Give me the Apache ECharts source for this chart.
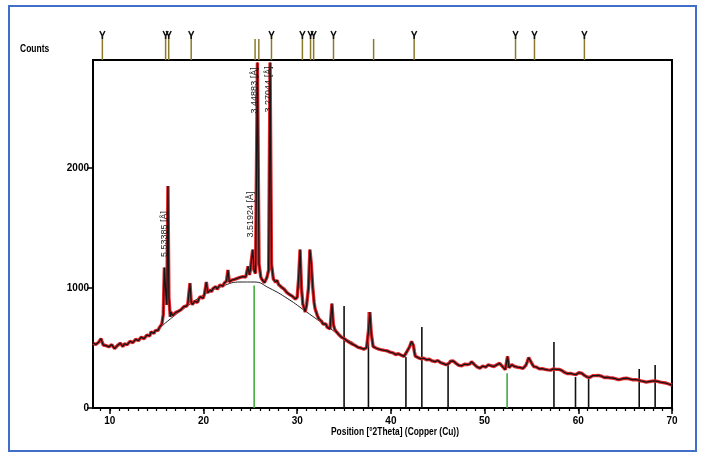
<!DOCTYPE html>
<html><head><meta charset="utf-8">
<script src="https://cdn.jsdelivr.net/npm/echarts@6/dist/echarts.min.js"></script>
<style>html,body{margin:0;padding:0;background:#fff}#c{width:702px;height:459px}</style>
</head><body><div id="c"></div>
<script>
// ---- data ----
const twoTheta = [
8.2,8.35,8.5,8.65,8.8,8.92,9.05,9.18,9.3,9.45,9.6,9.75,9.9,10.05,
10.2,10.35,10.5,10.65,10.8,10.95,11.1,11.25,11.4,11.55,11.7,11.85,12.0,
12.15,12.3,12.45,12.6,12.75,12.9,13.05,13.2,13.35,13.5,13.65,13.8,13.95,14.1,
14.25,14.4,14.55,14.7,14.85,15.0,15.15,15.3,15.55,15.7,15.82,15.95,16.08,16.2,16.3,16.45,
16.52,16.6,16.7,16.8,16.9,17.0,17.15,17.3,17.45,17.6,17.75,17.9,18.05,18.2,18.32,18.45,
18.55,18.68,18.8,18.9,19.05,19.2,19.35,19.5,19.65,19.8,19.95,20.1,20.2,20.3,20.45,
20.58,20.7,20.85,21.0,21.15,21.3,21.45,21.6,21.75,21.9,22.05,22.2,22.32,22.45,22.6,22.75,
22.88,23.0,23.15,23.3,23.45,23.6,23.75,23.9,24.05,24.2,24.35,24.5,24.62,24.75,24.9,25.0,
25.1,25.25,25.38,25.55,25.75,25.92,26.1,26.2,26.3,26.4,26.5,26.62,26.75,26.95,
27.1,27.25,27.45,27.58,27.7,27.85,28.0,28.15,28.3,28.45,28.6,28.75,28.9,29.05,
29.2,29.35,29.5,29.65,29.8,30.0,30.15,30.3,30.45,30.6,30.75,30.85,31.0,
31.2,31.35,31.5,31.65,31.8,31.9,32.0,32.15,32.3,32.45,32.6,32.75,32.9,33.05,33.2,
33.35,33.5,33.7,33.85,33.98,34.1,34.25,34.4,34.55,34.7,34.85,35.0,35.15,
35.3,35.45,35.6,35.75,35.9,36.05,36.2,36.35,36.5,36.65,36.8,36.95,37.1,37.25,
37.4,37.6,37.75,37.9,38.1,38.25,38.4,38.55,38.7,38.85,39.0,39.15,
39.3,39.45,39.6,39.75,39.9,40.05,40.2,40.35,40.5,40.65,40.8,40.95,41.1,
41.25,41.4,41.55,41.7,41.85,42.0,42.2,42.4,42.5,42.6,42.75,42.9,43.05,
43.2,43.35,43.5,43.65,43.8,43.95,44.1,44.25,44.4,44.55,44.7,44.85,45.0,
45.15,45.3,45.45,45.6,45.75,45.9,46.05,46.2,46.35,46.5,46.65,46.8,46.95,
47.1,47.25,47.4,47.55,47.7,47.85,48.0,48.15,48.3,48.45,48.6,48.75,48.9,
49.05,49.2,49.35,49.5,49.65,49.8,49.95,50.1,50.25,50.4,50.55,50.7,50.85,
51.0,51.15,51.3,51.45,51.6,51.75,51.9,52.05,52.2,52.45,52.6,52.75,
52.9,53.05,53.2,53.35,53.5,53.65,53.8,53.95,54.1,54.25,54.4,54.55,
54.7,54.9,55.1,55.25,55.4,55.55,55.7,55.85,56.0,56.15,56.3,56.45,
56.6,56.75,56.9,57.05,57.2,57.35,57.5,57.65,57.8,57.95,58.1,58.25,58.4,
58.55,58.7,58.85,59.0,59.15,59.3,59.45,59.6,59.75,59.9,60.05,60.2,60.35,
60.5,60.65,60.8,60.95,61.1,61.25,61.4,61.55,61.7,61.85,62.0,62.15,62.3,
62.45,62.6,62.75,62.9,63.05,63.2,63.35,63.5,63.65,63.8,63.95,64.1,64.25,
64.4,64.55,64.7,64.85,65.0,65.15,65.3,65.45,65.6,65.75,65.9,66.05,66.2,
66.35,66.5,66.65,66.8,66.95,67.1,67.25,67.4,67.55,67.7,67.85,68.0,68.15,
68.3,68.45,68.6,68.75,68.9,69.05,69.2,69.35,69.5,69.65,69.8,70.0];
const counts = [
540,552,530,515,548,535,578,548,525,540,520,532,510,502,
528,512,495,505,520,505,540,528,512,535,545,528,538,
555,566,545,555,572,580,562,570,590,598,578,590,608,612,
600,634,640,622,645,655,648,672,700,780,1170,980,860,1850,920,760,
800,790,770,765,782,795,780,805,820,820,808,845,858,850,868,880,
1040,885,862,870,890,895,880,910,928,930,915,950,962,1050,960,
975,985,968,995,1010,1012,990,1000,1025,1030,1015,1040,1030,1058,1150,1050,
1040,1065,1080,1072,1060,1080,1095,1088,1075,1095,1105,1090,1100,1180,1110,1150,
1230,1320,1150,1120,2880,1200,1095,1075,1060,1080,1045,1060,1085,1150,
2880,1200,1075,1060,1048,1065,1030,1040,1008,1020,990,998,962,975,
945,955,930,915,908,925,1080,1320,1000,865,830,800,860,
1000,1320,1200,1010,880,830,805,770,745,758,722,700,690,700,672,
680,660,870,700,660,642,630,615,608,592,585,578,570,
560,555,545,540,532,525,520,512,505,515,500,495,490,498,
502,640,800,620,512,505,500,508,490,495,485,478,
480,488,476,470,466,472,460,450,446,458,452,445,440,
435,430,445,470,490,512,555,522,470,432,425,420,428,
410,418,415,405,402,410,406,398,392,398,386,390,396,
385,378,382,370,365,360,368,372,390,400,392,382,372,
366,355,346,352,360,365,372,362,356,368,386,375,362,
350,342,338,332,345,350,345,340,352,360,355,352,348,
346,354,360,366,372,360,346,335,320,430,336,350,
360,352,346,342,340,345,336,332,330,340,356,385,
420,410,362,345,330,340,336,326,320,328,330,322,
326,318,310,316,320,326,330,322,318,322,326,312,300,
296,290,286,280,288,292,282,270,278,286,294,300,290,
280,272,266,258,250,256,262,270,275,270,268,272,275,
266,258,254,250,256,260,252,245,250,252,244,238,236,
235,240,242,246,250,248,245,242,240,236,232,236,240,
234,228,226,225,222,220,216,215,220,226,224,222,225,
228,222,218,216,215,212,210,208,205,200,195,190];
const bgTheta  = [15.5,16.5,18,20,22,24,25.4,27,29,31,33,35,36];
const bgCounts = [680,745,835,940,1015,1050,1050,1000,910,800,690,585,545];
const stickTheta  = [25.4,35.0,37.6,41.6,43.3,46.1,52.4,57.4,59.7,61.1,66.5,68.2];
const stickCounts = [1020,850,800,425,675,360,290,550,258,258,325,358];
const stickGreen  = [1,0,0,0,0,0,1,0,0,0,0,0];
const markerTheta = [9.2,15.95,16.28,18.68,25.5,25.9,27.25,30.55,31.42,31.75,33.87,38.15,42.48,53.3,55.32,60.65];
const markerGlyph = [1,1,1,1,0,0,1,1,1,1,1,0,1,1,1,1];
const peakTheta  = [16.2,25.25,25.75,27.1];
const peakCounts = [1850,1320,2880,2880];
const peakLabels = ['5.53385 [Å]','3.51924 [Å]','3.44883 [Å]','3.27044 [Å]'];
const xTickLabels = [10,20,30,40,50,60,70];
const yTickLabels = [0,1000,2000];

// ---- presentation ----
const FONT = "'Liberation Sans',Arial,sans-serif";
const labelOffsets = [[-3,71],[-2,-12],[-2.5,51],[-2,50]];
const xMin = 8.2, xMax = 70;
const minorTicks = [];
for (let v = 9; v <= 70; v++) minorTicks.push(v);

const obs = twoTheta.map((t,i)=>[t,counts[i]]);
const bg = bgTheta.map((t,i)=>[t,bgCounts[i]]);
const sticks = stickTheta.map((t,i)=>[t,stickCounts[i],stickGreen[i]]);
const markers = markerTheta.map((t,i)=>[t,markerGlyph[i]]);
const peaks = peakTheta.map((t,i)=>[t,peakCounts[i],i]);

const gridBox = {left:93, right:30, top:60, bottom:51};
const chart = echarts.init(document.getElementById('c'), null, {renderer:'canvas'});
chart.setOption({
  animation:false,
  backgroundColor:'#fff',
  grid:[
    Object.assign({show:true, borderColor:'#000', borderWidth:2, backgroundColor:'transparent'}, gridBox),
    {left:93, right:30, top:28, height:32, show:false},
    Object.assign({show:false}, gridBox)
  ],
  xAxis:[
    {type:'value', gridIndex:0, min:xMin, max:xMax, position:'bottom',
     axisLine:{onZero:false, lineStyle:{color:'#000', width:2}},
     axisTick:{customValues:xTickLabels, length:6, lineStyle:{color:'#000', width:1.5}},
     axisLabel:{customValues:xTickLabels, color:'#000', fontFamily:FONT, fontWeight:'bold', fontSize:10, margin:8},
     splitLine:{show:false}},
    {type:'value', gridIndex:1, min:xMin, max:xMax, show:false},
    {type:'value', gridIndex:2, min:xMin, max:xMax, position:'bottom',
     axisLine:{show:false},
     axisTick:{customValues:minorTicks, length:3, lineStyle:{color:'#000', width:1.2}},
     axisLabel:{show:false}, splitLine:{show:false}}
  ],
  yAxis:[
    {type:'value', gridIndex:0, min:0, max:2900,
     axisLine:{show:true, onZero:false, lineStyle:{color:'#000', width:2}},
     axisTick:{show:true, customValues:yTickLabels, length:6, lineStyle:{color:'#000', width:1.5}},
     axisLabel:{customValues:yTickLabels, formatter:v=>String(v), color:'#000', fontFamily:FONT, fontWeight:'bold', fontSize:10, margin:4},
     splitLine:{show:false}},
    {type:'value', gridIndex:1, min:0, max:1, show:false},
    {type:'value', gridIndex:2, min:0, max:2900, show:false}
  ],
  graphic:[
    {type:'rect', shape:{x:9, y:6, width:687, height:445}, style:{fill:'none', stroke:'#3f6fc8', lineWidth:2}, z:100},
    {type:'text', x:20, y:44, scaleX:0.85, style:{text:'Counts', font:"bold 10px "+FONT, fill:'#000'}},
    {type:'text', x:331, y:427, scaleX:0.84, style:{text:'Position [°2Theta] (Copper (Cu))', font:"bold 10px "+FONT, fill:'#000'}}
  ],
  series:[
    {type:'line', xAxisIndex:0, yAxisIndex:0, data:bg, showSymbol:false, smooth:true,
     lineStyle:{color:'#222', width:1}, z:2, silent:true},
    {type:'custom', xAxisIndex:0, yAxisIndex:0, data:sticks, z:3, clip:true,
     renderItem:function(params, api){
       const a = api.coord([api.value(0),0]);
       const b = api.coord([api.value(0),api.value(1)]);
       return {type:'line', shape:{x1:a[0],y1:a[1],x2:b[0],y2:b[1]},
         style:{stroke: api.value(2) ? '#3fae3f' : '#111', lineWidth:1.6}};
     }},
    {type:'line', xAxisIndex:0, yAxisIndex:0, data:obs, showSymbol:false,
     lineStyle:{color:'#e3262b', width:3.4}, z:4, silent:true},
    {type:'line', xAxisIndex:0, yAxisIndex:0, data:obs, showSymbol:false,
     lineStyle:{color:'#151515', width:1.3}, z:5, silent:true},
    {type:'custom', xAxisIndex:0, yAxisIndex:0, data:peaks, z:6,
     renderItem:function(params, api){
       const i = api.value(2);
       const p = api.coord([api.value(0),api.value(1)]);
       const off = labelOffsets[i];
       return {type:'text', x:p[0]+off[0], y:p[1]+off[1], rotation:Math.PI/2,
         style:{text:peakLabels[i], font:"9px "+FONT, fill:'#1a1a1a', align:'left', verticalAlign:'middle'}};
     }},
    {type:'custom', xAxisIndex:1, yAxisIndex:1, data:markers, z:7,
     renderItem:function(params, api){
       const p = api.coord([api.value(0),0]);
       const x = p[0], y0 = p[1];
       const children = [];
       if (api.value(1)) {
         children.push({type:'line', shape:{x1:x,y1:y0,x2:x,y2:y0-23}, style:{stroke:'#8c7a2c', lineWidth:1.5}});
         children.push({type:'polyline', shape:{points:[[x-2.5,y0-29],[x,y0-24],[x+2.5,y0-29]]}, style:{stroke:'#111', lineWidth:1.5, fill:'none'}});
         children.push({type:'line', shape:{x1:x,y1:y0-24,x2:x,y2:y0-21}, style:{stroke:'#111', lineWidth:1.5}});
       } else {
         children.push({type:'line', shape:{x1:x,y1:y0,x2:x,y2:y0-21}, style:{stroke:'#8c7a2c', lineWidth:1.5}});
       }
       return {type:'group', children:children};
     }}
  ]
});
</script>
</body></html>
